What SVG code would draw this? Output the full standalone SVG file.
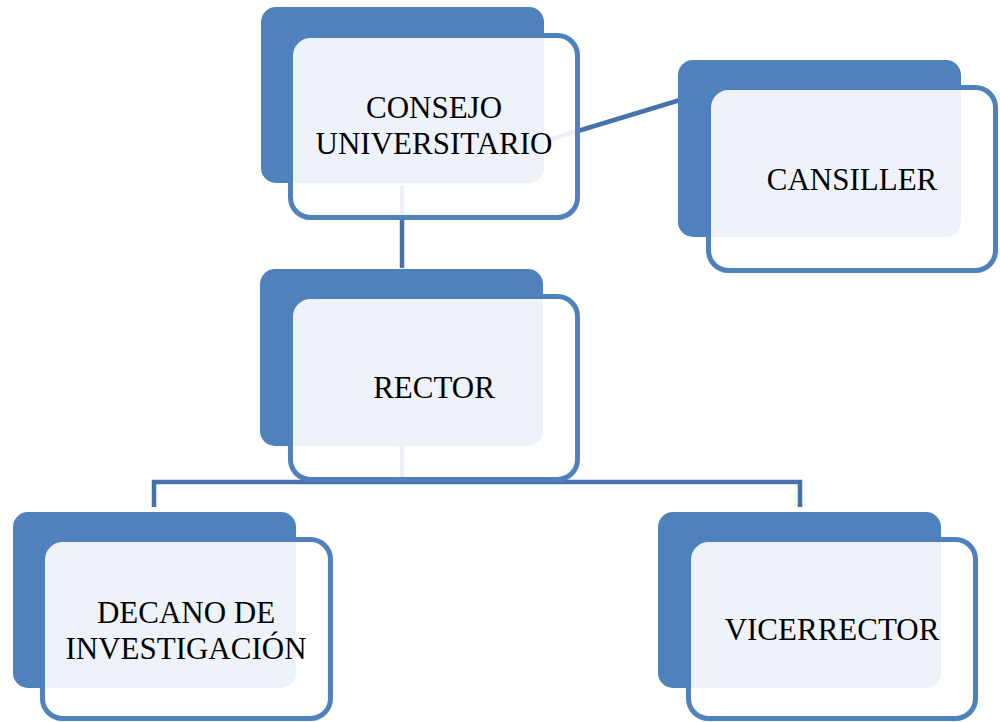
<svg xmlns="http://www.w3.org/2000/svg" width="1000" height="722" viewBox="0 0 1000 722">
<style>
.back{fill:#4F81BD;}
.front{fill:#FFFFFF;fill-opacity:0.9;stroke:#4F81BD;stroke-width:5;}
.lbl{font-family:"Liberation Serif","Times New Roman",serif;font-size:31px;fill:#000;text-anchor:middle;}
.conn{fill:none;stroke:#4672AC;stroke-width:4.5;}
</style>
<rect width="1000" height="722" fill="#FFFFFF"/>
<g id="connectors">
<line class="conn" x1="545" y1="141" x2="680" y2="100"/>
<line class="conn" x1="402" y1="185" x2="402" y2="268"/>
<path class="conn" d="M402,446 V482"/>
<path class="conn" d="M154,507 V482 H800 V507"/>
</g>
<g id="consejo">
<rect class="back" x="261" y="7" width="283" height="176" rx="15"/>
<rect class="front" x="290.5" y="35.5" width="287" height="182" rx="20"/>
<text class="lbl" x="434" y="118">CONSEJO</text>
<text class="lbl" x="434" y="154">UNIVERSITARIO</text>
</g>
<g id="cansiller">
<rect class="back" x="678" y="60" width="283" height="177" rx="15"/>
<rect class="front" x="708.5" y="87.5" width="287" height="183" rx="20"/>
<text class="lbl" x="852" y="190">CANSILLER</text>
</g>
<g id="rector">
<rect class="back" x="260" y="269" width="283" height="177" rx="15"/>
<rect class="front" x="290.5" y="296.5" width="287" height="183" rx="20"/>
<text class="lbl" x="434" y="398">RECTOR</text>
</g>
<g id="decano">
<rect class="back" x="13" y="512" width="283" height="176" rx="15"/>
<rect class="front" x="42.5" y="539.5" width="288" height="179" rx="20"/>
<text class="lbl" x="186" y="623">DECANO DE</text>
<text class="lbl" x="186" y="659">INVESTIGACIÓN</text>
</g>
<g id="vicerrector">
<rect class="back" x="658" y="512" width="283" height="176" rx="15"/>
<rect class="front" x="688.5" y="539.5" width="287" height="179" rx="20"/>
<text class="lbl" x="832" y="640">VICERRECTOR</text>
</g>
</svg>
